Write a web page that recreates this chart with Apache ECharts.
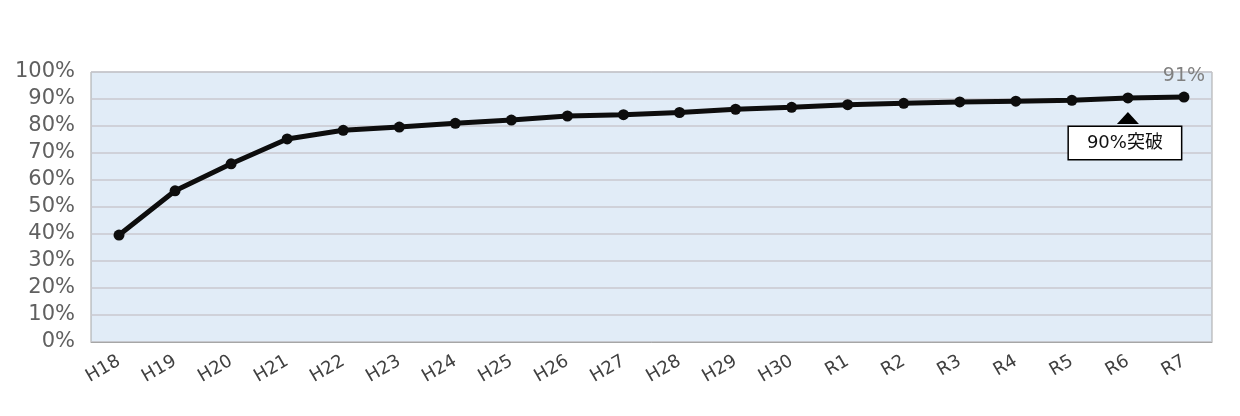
<!DOCTYPE html>
<html>
<head>
<meta charset="utf-8">
<script src="https://cdn.jsdelivr.net/npm/echarts@6/dist/echarts.min.js"></script>
<style>
  html, body { margin: 0; padding: 0; background: #fff; }
  #chart { width: 1240px; height: 416px; }
</style>
</head>
<body>
<div id="chart"></div>
<script>
  // 年度
  const years = ['H18', 'H19', 'H20', 'H21', 'H22', 'H23', 'H24', 'H25', 'H26', 'H27',
    'H28', 'H29', 'H30', 'R1', 'R2', 'R3', 'R4', 'R5', 'R6', 'R7']
  // 割合 (%)
  const rates = [39.6, 56, 66, 75.2, 78.4, 79.6, 81, 82.2, 83.7, 84.2,
    85, 86.2, 86.9, 87.9, 88.4, 88.9, 89.2, 89.5, 90.4, 90.7]
  const lastLabel = '91%'
  const noteText = '90%突破'
  const noteYear = 'R6'

  const chart = echarts.init(document.getElementById('chart'))
  const fontFamily = '"DejaVu Sans", "Noto Sans CJK JP", sans-serif'
  const noteValue = rates[years.indexOf(noteYear)]

  chart.setOption({
    animation: false,
    textStyle: { fontFamily: fontFamily },
    grid: {
      left: 91,
      right: 28,
      top: 72,
      bottom: 74,
      show: true,
      backgroundColor: '#e1ecf7',
      borderColor: '#a6a6a6',
      borderWidth: 1
    },
    xAxis: {
      type: 'category',
      data: years,
      boundaryGap: true,
      axisLine: { lineStyle: { color: '#a6a6a6' } },
      axisTick: { show: false },
      axisLabel: {
        rotate: 30,
        margin: 18,
        fontSize: 18,
        color: '#404040',
        fontFamily: fontFamily
      }
    },
    yAxis: {
      type: 'value',
      min: 0,
      max: 100,
      interval: 10,
      axisLine: { show: false },
      axisTick: { show: false },
      axisLabel: {
        formatter: '{value}%',
        fontSize: 21,
        margin: 16,
        color: '#606060',
        fontFamily: fontFamily
      },
      splitLine: { lineStyle: { color: '#c9c9cf', width: 1.5 } }
    },
    series: [{
      type: 'line',
      data: rates.map((v, i) => i === rates.length - 1
        ? { value: v, label: { show: true, formatter: lastLabel } }
        : v),
      symbol: 'circle',
      symbolSize: 11,
      lineStyle: { color: '#0d0d0d', width: 5 },
      itemStyle: { color: '#0d0d0d' },
      label: {
        show: false,
        position: 'top',
        distance: 6,
        fontSize: 19,
        color: '#808080'
      },
      markPoint: {
        silent: true,
        data: [
          {
            coord: [noteYear, noteValue],
            symbol: 'rect',
            symbolSize: 1,
            itemStyle: { color: 'rgba(0,0,0,0)' },
            label: {
              show: true,
              position: 'inside',
              offset: [-3, 45],
              formatter: noteText,
              width: 112,
              height: 32,
              lineHeight: 32,
              align: 'center',
              verticalAlign: 'middle',
              backgroundColor: '#fff',
              borderColor: '#000',
              borderWidth: 1.5,
              fontSize: 18,
              color: '#111'
            }
          },
          {
            coord: [noteYear, noteValue],
            symbol: 'triangle',
            symbolSize: [22, 12],
            symbolOffset: [0, 20],
            itemStyle: { color: '#000' },
            label: { show: false }
          }
        ]
      }
    }]
  })
</script>
</body>
</html>
